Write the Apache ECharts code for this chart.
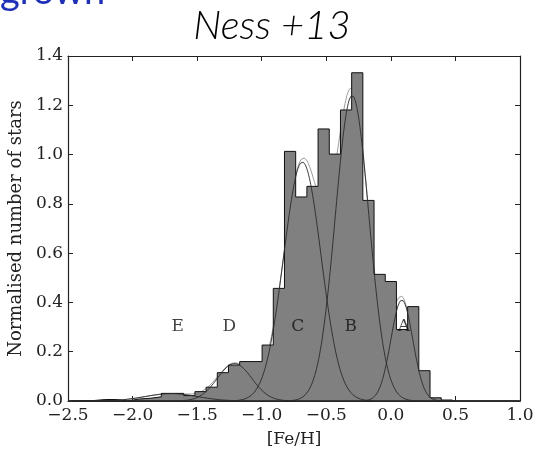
<!DOCTYPE html>
<html>
<head>
<meta charset="utf-8">
<script src="https://cdn.jsdelivr.net/npm/echarts@6/dist/echarts.min.js"></script>
<style>
html, body { margin: 0; padding: 0; background: #fff; }
#chart { width: 536px; height: 451px; }
</style>
</head>
<body>
<div id="chart"></div>
<script>
// [Fe/H] histogram, uniform bins
var binStart = -2.471;
var binWidth = 0.0867;
var binCounts = [0.002, 0.002, 0.006, 0.006, 0, 0.008, 0.011, 0.017, 0.031, 0.031,
  0.022, 0.038, 0.056, 0.115, 0.146, 0.16, 0.16, 0.227, 0.457, 1.013,
  0.828, 0.871, 1.104, 1.002, 1.181, 1.332, 0.814, 0.514, 0.485, 0.29,
  0.383, 0.123, 0.013, 0.004];

// gaussian components A..E
var compNames = ['A', 'B', 'C', 'D', 'E'];
var compMean = [0.085, -0.30, -0.685, -1.21, -1.70];
var compSigma = [0.085, 0.13, 0.145, 0.133, 0.20];
var compPeak = [0.41, 1.24, 0.97, 0.152, 0.03];

// where the letters sit
var labelX = [0.10, -0.31, -0.72, -1.25, -1.65];
var labelY = [0.30, 0.30, 0.30, 0.30, 0.30];

var chartDom = document.getElementById('chart');
var myChart = echarts.init(chartDom, null, { renderer: 'canvas' });
var option;

var serif = 'DejaVu Serif';

// stepfilled outline from the bins
var histPts = [];
binCounts.forEach(function (v, i) {
  var x0 = binStart + i * binWidth;
  if (i === 0) histPts.push([x0, 0]);
  histPts.push([x0, v]);
  histPts.push([x0 + binWidth, v]);
  if (i === binCounts.length - 1) histPts.push([x0 + binWidth, 0]);
});

var xs = [];
for (var x = -2.5; x <= 1.0001; x += 0.005) xs.push(x);

function gauss(k, x) {
  var d = x - compMean[k];
  return compPeak[k] * Math.exp(-d * d / (2 * compSigma[k] * compSigma[k]));
}

var curveSeries = compNames.map(function (name, k) {
  return {
    name: name,
    type: 'line',
    symbol: 'none',
    silent: true,
    z: 3,
    lineStyle: { color: '#2a2a2a', width: 0.9 },
    data: xs.map(function (x) { return [x, gauss(k, x)]; })
  };
});

// total model, same grey as the bars so it only shows on white
var sumSeries = {
  name: 'total',
  type: 'line',
  symbol: 'none',
  silent: true,
  z: 2,
  lineStyle: { color: '#838383', width: 0.8 },
  data: xs.map(function (x) {
    var s = 0;
    for (var k = 0; k < compNames.length; k++) s += gauss(k, x);
    return [x, s];
  })
};

function minus(v) {
  return String(v).replace('-', '\u2212');
}

var tickStyle = { inside: true, length: 5, lineStyle: { color: '#222', width: 1 } };
var lineStyle = { show: true, onZero: false, lineStyle: { color: '#222', width: 1.2 } };

option = {
  animation: false,
  backgroundColor: '#fff',
  grid: { left: 68, right: 16, top: 56, bottom: 50, containLabel: false, outerBoundsMode: 'none' },
  graphic: [
    {
      type: 'text',
      left: 0,
      top: -27,
      style: { text: 'grown', font: '38px Lato', fill: '#1f2fb8' }
    },
    {
      type: 'text',
      x: 272,
      y: 26,
      style: {
        text: 'Ness +13',
        font: 'italic 300 40px Lato',
        fill: '#000',
        align: 'center',
        verticalAlign: 'middle'
      }
    }
  ],
  xAxis: [
    {
      type: 'value',
      position: 'bottom',
      min: -2.5,
      max: 1.0,
      interval: 0.5,
      name: '[Fe/H]',
      nameLocation: 'middle',
      nameGap: 30,
      nameTextStyle: { fontFamily: serif, fontSize: 17, color: '#222' },
      axisLine: lineStyle,
      axisTick: tickStyle,
      splitLine: { show: false },
      axisLabel: {
        margin: 6,
        fontFamily: serif,
        fontSize: 17,
        color: '#222',
        formatter: function (v) { return minus(v.toFixed(1)); }
      }
    },
    {
      type: 'value',
      position: 'top',
      min: -2.5,
      max: 1.0,
      interval: 0.5,
      axisLine: lineStyle,
      axisTick: tickStyle,
      splitLine: { show: false },
      axisLabel: { show: false }
    }
  ],
  yAxis: [
    {
      type: 'value',
      position: 'left',
      min: 0,
      max: 1.4,
      interval: 0.2,
      name: 'Normalised number of stars',
      nameLocation: 'middle',
      nameGap: 38,
      nameTextStyle: { fontFamily: serif, fontSize: 18, color: '#222' },
      axisLine: lineStyle,
      axisTick: tickStyle,
      splitLine: { show: false },
      axisLabel: {
        margin: 5,
        fontFamily: serif,
        fontSize: 17,
        color: '#222',
        formatter: function (v) { return v.toFixed(1); }
      }
    },
    {
      type: 'value',
      position: 'right',
      min: 0,
      max: 1.4,
      interval: 0.2,
      axisLine: lineStyle,
      axisTick: tickStyle,
      splitLine: { show: false },
      axisLabel: { show: false }
    }
  ],
  series: [
    sumSeries,
    {
      name: 'hist',
      type: 'line',
      symbol: 'none',
      silent: true,
      z: 2,
      lineStyle: { color: '#111', width: 1 },
      areaStyle: { color: '#808080', opacity: 1 },
      data: histPts
    }
  ].concat(curveSeries).concat([
    {
      name: 'letters',
      type: 'scatter',
      symbolSize: 0,
      silent: true,
      z: 6,
      label: {
        show: true,
        position: 'inside',
        fontFamily: serif,
        fontSize: 17,
        color: '#111',
        formatter: function (p) { return p.data[2]; }
      },
      data: compNames.map(function (n, k) { return [labelX[k], labelY[k], n]; })
    }
  ])
};

option && myChart.setOption(option);
</script>
</body>
</html>
